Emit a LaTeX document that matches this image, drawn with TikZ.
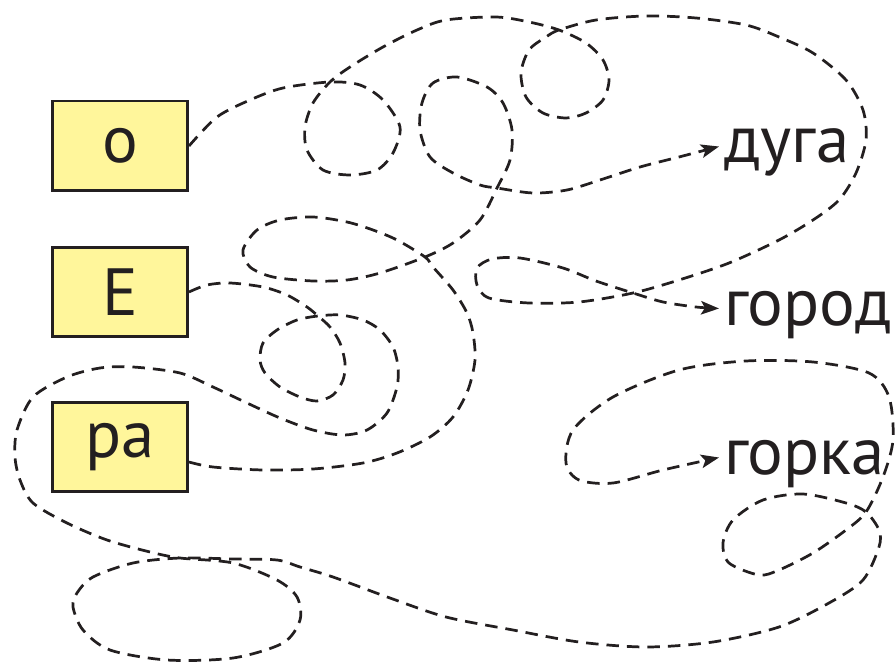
\documentclass[tikz,border=0pt]{standalone}
\usepackage{fontspec}
\setmainfont{PT Sans}
\usetikzlibrary{arrows.meta}
\definecolor{boxfill}{RGB}{255,246,155}
\definecolor{ink}{RGB}{35,31,32}

\begin{document}
\begin{tikzpicture}[x=0.02cm,y=-0.02cm,>=Stealth,
  letterbox/.style={draw=ink,line width=1.7pt,fill=boxfill,minimum width=2.7cm,
    minimum height=1.8cm,inner sep=0pt,text=ink,font=\fontsize{38}{40}\selectfont},
  word/.style={anchor=base west,inner xsep=0.1cm,inner ysep=0pt,text height=0.66cm,
    text depth=0pt,text=ink,font=\fontsize{38}{40}\selectfont},
  wire/.style={draw=ink,line width=1.55pt,dash pattern=on 0.25cm off 0.16cm,
    -{Stealth[length=0.36cm,width=0.27cm,inset=0.08cm]}}]
  \useasboundingbox (0,0) rectangle (896,662);
  % the letter boxes
  \node[letterbox] (o)  at (120,146) {о};
  \node[letterbox] (e)  at (120,292) {Е};
  \node[letterbox] (ra) at (120,447) {ра};
  % the words
  \node[word] (duga)  at (719,163) {дуга};
  \node[word] (gorod) at (719,325) {город};
  \node[word] (gorka) at (719,474) {горка};
  % o -> gorod: two small loops, big loop, small loop
  \draw[wire] plot[smooth] coordinates {(o.east) (217,117) (250,100) (283,88) (330,82)
    (360,85) (383,100) (400,127) (393,153) (377,170) (350,175) (323,170) (307,150)
    (305,127) (313,103) (330,82) (350,67) (383,47) (417,30) (446,20) (496,17) (529,22)
    (559,30) (586,43) (603,60) (609,80) (603,100) (586,113) (566,118) (543,113) (526,97)
    (521,73) (529,50) (546,37) (559,30) (596,20) (646,16) (696,18) (746,25) (779,37)
    (813,53) (846,80) (863,110) (866,140) (856,173) (839,200) (813,220) (779,240)
    (729,263) (679,280) (633,293) (579,302) (529,303) (489,298) (477,285) (477,268)
    (492,259) (520,258) (563,268) (596,281) (633,293) (663,302) (696,307) (gorod.west)};
  % ra -> duga
  \draw[wire] plot[smooth] coordinates {([yshift=-0.3cm]ra.east) (213,467) (263,470)
    (313,469) (363,463) (397,453) (430,437) (453,417) (468,390) (475,360) (473,333)
    (467,313) (453,290) (433,267) (425,257) (397,240) (373,230) (347,222) (313,217)
    (280,220) (257,230) (243,250) (250,267) (273,277) (313,281) (347,280) (380,273)
    (425,257) (453,243) (480,220) (497,188) (510,160) (512,130) (503,103) (487,87)
    (457,77) (433,83) (422,103) (420,130) (430,157) (453,173) (480,185) (497,188)
    (533,193) (567,190) (600,180) (640,167) (679,157) (duga.west)};
  % e -> gorka, round the ra box and along the bottom
  \draw[wire] plot[smooth] coordinates {(e.east) (207,285) (230,283) (263,287) (287,295)
    (307,307) (318,316) (330,327) (340,343) (345,363) (343,380) (333,395) (317,401)
    (300,397) (280,387) (265,373) (260,360) (263,343) (277,330) (297,320) (318,316)
    (340,315) (363,320) (380,330) (393,347) (398,367) (397,387) (387,413) (367,430)
    (343,435) (313,430) (280,418) (247,403) (213,387) (180,373) (133,367) (100,368)
    (67,377) (33,397) (17,430) (15,457) (20,480) (33,503) (67,523) (107,540) (150,552)
    (180,558) (233,563) (277,580) (297,597) (300,620) (283,643) (233,658) (167,660)
    (110,650) (83,630) (73,607) (77,593) (93,577) (133,563) (180,558) (233,559)
    (277,560) (300,567) (333,577) (390,598) (446,617) (513,630) (579,642) (646,647)
    (713,642) (779,627) (829,603) (863,580) (879,547) (879,530) (866,512) (846,503)
    (803,494) (763,500) (733,520) (723,543) (729,563) (759,575) (779,570) (813,553)
    (846,530) (866,512) (883,477) (893,440) (889,397) (869,373) (813,362) (746,361)
    (679,370) (613,397) (573,430) (566,463) (579,480) (613,483) (663,470) (gorka.west)};
\end{tikzpicture}
\end{document}
